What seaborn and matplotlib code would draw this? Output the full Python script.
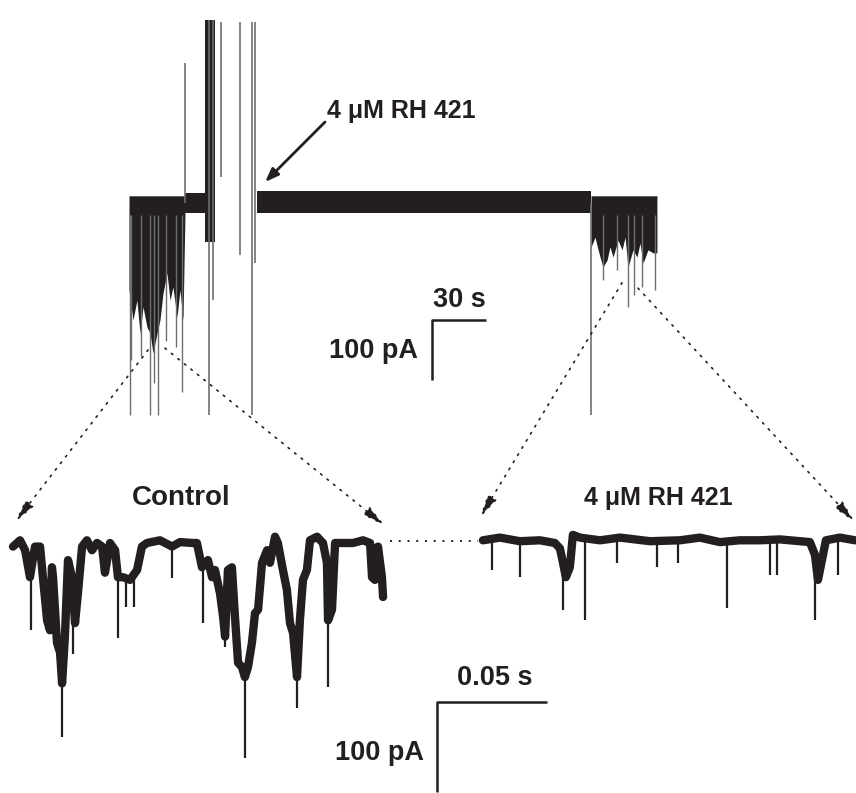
import numpy as np
import pandas as pd
import matplotlib
matplotlib.use("Agg")
import matplotlib.pyplot as plt
import seaborn as sns
from matplotlib.patches import ConnectionPatch

sns.set_style("white")
plt.rcParams["font.family"] = ["Liberation Sans", "DejaVu Sans"]

INK = "#231f20"
GREY = "#6e6e6e"

# ---------------- slow trace (time in s, current in pA) ----------------
# noise band pieces: start, end, upper edge, lower edge
band_start = [31.1, 42.2, 71.1]
band_end = [42.2, 47.8, 256.7]
band_upper = [17, 305, 20]
band_lower = [-17, -65, -17]

# dense control block (before the dye), ragged lower edge
ctl_blk_t = [0, 2.2, 4.4, 6.1, 7.8, 10.0, 11.7, 13.3, 15.6, 17.2, 18.9, 21.1, 22.8, 24.4, 26.7, 28.3, 30.0, 31.1]
ctl_blk_low = [-145, -195, -162, -217, -173, -207, -217, -250, -217, -195, -150, -117, -162, -140, -190, -145, -195, -17]
ctl_blk_top = 12

# block at the end, after washout
rh_blk_t = [256.7, 258.9, 260.6, 263.3, 265.6, 267.2, 268.9, 271.7, 273.9, 275.6, 277.2, 280.0, 282.2, 283.9, 285.6, 288.3, 291.1, 293.3]
rh_blk_low = [-73, -57, -78, -107, -95, -73, -90, -62, -78, -57, -107, -78, -90, -67, -100, -78, -83, -83]
rh_blk_top = 12

# single channel openings poking out of the blocks
top_spk_t = [0.6, 1.1, 6.7, 11.7, 13.9, 16.1, 20.6, 26.1, 29.4, 263.3, 271.1, 277.2, 280.6, 285.0, 292.2]
top_spk_pA = [-353, -262, -255, -353, -300, -353, -230, -240, -315, -128, -112, -173, -153, -140, -145]

# solution exchange artefacts
art_t = [31.1, 44.4, 46.7, 51.1, 61.7, 68.3, 70.0, 256.7]
art_top = [233, 305, 305, 302, 302, 302, 302, 0]
art_bot = [0, -353, -162, 43, -87, -353, -100, -353]

# ---------------- fast traces (time in ms, current in pA) ----------------
ctl_ms = [0.0, 3.2, 5.5, 7.7, 10.0, 12.3, 13.6, 15.5, 16.8, 17.7, 18.2, 20.0, 21.4, 22.3, 23.6, 25.0,
          26.8, 28.2, 29.5, 31.4, 33.6, 35.9, 38.2, 40.5, 41.8, 44.1, 46.4, 47.7, 50.0, 53.2, 56.4,
          58.6, 60.9, 66.8, 72.3, 75.9, 81.8, 83.6, 85.9, 88.6, 90.5, 91.8, 94.1, 95.5, 96.4, 97.7,
          99.5, 100.9, 102.3, 104.1, 105.4, 106.8, 108.6, 110.0, 111.4, 113.2, 115.5, 116.8, 119.1,
          120.4, 122.7, 124.5, 125.9, 127.3, 129.1, 130.4, 131.8, 133.6, 135.0, 138.2, 140.9, 142.7,
          143.2, 145.0, 146.4, 150.0, 154.5, 159.1, 162.3, 163.2, 164.5, 165.9, 167.7, 168.2]
ctl_pA = [-4, 3, -8, -38, -4, -4, -38, -86, -97, -27, -38, -111, -122, -156, -104, -19,
          -38, -89, -56, -4, 3, -8, 0, -4, -33, 0, -8, -38, -38, -41, -30,
          -4, 0, 3, -4, 1, 0, 0, -27, -19, -38, -30, -56, -82, -104, -30,
          -27, -82, -133, -138, -149, -138, -111, -78, -74, -22, -8, -22, 7,
          0, -30, -52, -89, -100, -149, -86, -41, -30, 3, 7, 0, -22,
          -86, -74, 0, 0, 0, 3, 0, -38, -41, -4, -38, -60]
ctl_spk_ms = [8.2, 22.3, 27.3, 47.7, 51.4, 55.0, 72.3, 86.4, 96.4, 105.4, 129.1, 143.2]
ctl_spk_pA = [-97, -216, -123, -106, -71, -71, -39, -89, -116, -239, -183, -160]

rh_ms = [0, 7.7, 16.8, 25.9, 32.7, 35.0, 36.4, 37.7, 39.5, 40.9, 44.1, 53.2, 62.3, 75.9,
         89.5, 98.6, 107.7, 116.8, 125.9, 135.0, 144.1, 148.6, 150.9, 152.3, 154.1, 155.9, 162.3, 169.1]
rh_pA = [3, 6, 2, 3, 0, -6, -22, -38, -27, 9, 6, 3, 6, 2,
         3, 6, 1, 3, 3, 4, 2, 1, -13, -41, -19, 3, 6, 3]
rh_spk_ms = [4.1, 16.8, 36.4, 46.4, 60.9, 79.1, 88.6, 110.9, 130.4, 133.6, 150.9, 161.4]
rh_spk_pA = [-30, -38, -74, -86, -22, -27, -22, -72, -36, -36, -86, -36]
rh_offset_ms = 213.6

# ---------------- figure ----------------
W, H = 856, 793
fig = plt.figure(figsize=(W / 100, H / 100), dpi=100)
split = 440
ax_top = fig.add_axes([0, 1 - split / H, 1, split / H])
ax_bot = fig.add_axes([0, 0, 1, (H - split) / H])
for ax in (ax_top, ax_bot):
    ax.set_axis_off()
    ax.patch.set_alpha(0)

# 30 s = 54 px, 100 pA = 60 px ; trace starts at px 129, baseline at px 203
ax_top.set_xlim(-129 * 30 / 54, (W - 129) * 30 / 54)
ax_top.set_ylim(-(split - 203) / 0.6, 203 / 0.6)

for s, e, u, l in zip(band_start, band_end, band_upper, band_lower):
    ax_top.fill_between([s, e], [u, u], [l, l], color=INK, lw=0)
ax_top.fill_between(ctl_blk_t, ctl_blk_top, ctl_blk_low, color=INK, lw=0)
ax_top.fill_between(rh_blk_t, rh_blk_top, rh_blk_low, color=INK, lw=0)
ax_top.vlines(top_spk_t, -20, top_spk_pA, color=GREY, lw=1.0)
ax_top.vlines(art_t, art_bot, art_top, color=GREY, lw=1.2)

ax_top.text(110, 142, "4 \u03bcM RH 421", fontsize=18, fontweight="bold", color=INK,
            ha="left", va="baseline")
ax_top.annotate("", xy=(75.6, 35), xytext=(108.9, 135),
                arrowprops=dict(arrowstyle="-|>,head_length=0.8,head_width=0.3",
                                lw=2, color=INK, shrinkA=0, shrinkB=0))

# scale bar 30 s / 100 pA
sx, sy = 168.3, -195
ax_top.plot([sx, sx, sx + 30], [sy - 100, sy, sy], color=INK, lw=1.8, solid_capstyle="butt")
ax_top.text(sx + 0.5, sy + 22, "30 s", fontsize=19.5, fontweight="bold", color=INK,
            ha="left", va="baseline")
ax_top.text(sx - 7.8, sy - 63, "100 pA", fontsize=19.5, fontweight="bold", color=INK,
            ha="right", va="baseline")

# 0.05 s = 110 px, 100 pA = 90 px ; trace starts at px 13, baseline at px 543
ms_px = 50 / 110
ax_bot.set_xlim(-13 * ms_px, (W - 13) * ms_px)
ax_bot.set_ylim(-(H - 543) / 0.9, (543 - split) / 0.9)

ctl_df = pd.DataFrame({"ms": ctl_ms, "pA": ctl_pA})
rh_df = pd.DataFrame({"ms": np.array(rh_ms) + rh_offset_ms, "pA": rh_pA})
for df, spk_ms, spk_pA, off in ((ctl_df, ctl_spk_ms, ctl_spk_pA, 0),
                                (rh_df, rh_spk_ms, rh_spk_pA, rh_offset_ms)):
    sns.lineplot(data=df, x="ms", y="pA", ax=ax_bot, color=INK, linewidth=6,
                 estimator=None, sort=False)
    sx_ = np.array(spk_ms) + off
    ax_bot.vlines(sx_, np.interp(sx_, df["ms"], df["pA"]), spk_pA, color=INK, lw=1.6)
ax_bot.set_axis_off()

ax_bot.plot([171.4, 211.4], [2, 2], color=INK, lw=1.4, ls=(0, (1, 3.5)))

ax_bot.text(76.4, 42, "Control", fontsize=20, fontweight="bold", color=INK,
            ha="center", va="baseline")
ax_bot.text(rh_offset_ms + 79.5, 42, "4 \u03bcM RH 421", fontsize=18, fontweight="bold",
            color=INK, ha="center", va="baseline")

# scale bar 0.05 s / 100 pA
bx, by = 192.7, -176.7
ax_bot.plot([bx, bx, bx + 50], [by - 100, by, by], color=INK, lw=1.8, solid_capstyle="butt")
ax_bot.text(bx + 26.5, by + 19, "0.05 s", fontsize=19.5, fontweight="bold", color=INK,
            ha="center", va="baseline")
ax_bot.text(bx - 5.9, by - 64, "100 pA", fontsize=19.5, fontweight="bold", color=INK,
            ha="right", va="baseline")

# dotted zoom connectors
links = [((10.6, -245), (0.9, 23)),
         ((20.0, -242), (169.1, 19)),
         ((273.9, -133), (rh_offset_ms - 1.4, 28)),
         ((282.8, -142), (rh_offset_ms + 169.1, 23))]
for a, b in links:
    con = ConnectionPatch(xyA=a, coordsA=ax_top.transData, xyB=b, coordsB=ax_bot.transData,
                          arrowstyle="-|>,head_length=1.0,head_width=0.22", mutation_scale=14,
                          color=INK, lw=1.2, ls=(0, (1, 4)), shrinkA=0, shrinkB=0)
    fig.add_artist(con)

fig.savefig("out.png", dpi=100)
